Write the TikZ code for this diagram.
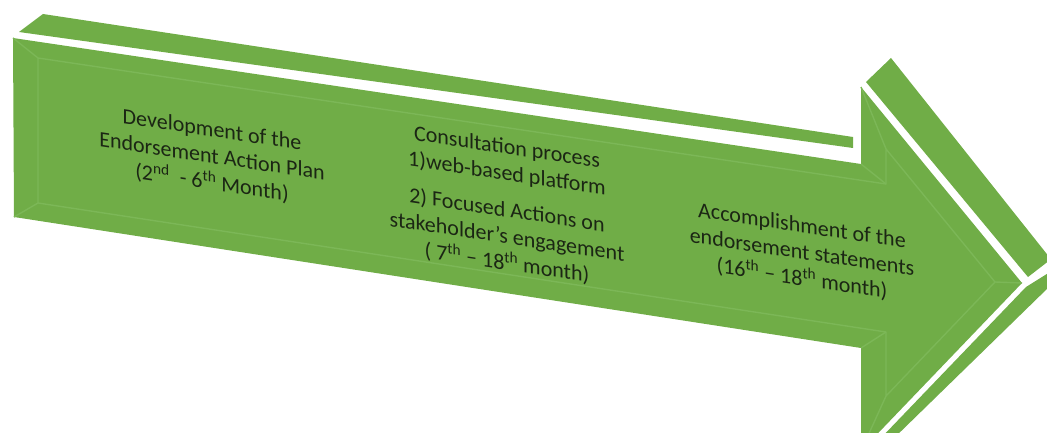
\documentclass[tikz,border=0pt]{standalone}
\usepackage{fontspec}
\setmainfont{Carlito}
\definecolor{arrowgreen}{HTML}{70AD47}
\definecolor{bevelgreen}{HTML}{7CB757}
\definecolor{labelink}{HTML}{1B2614}

\begin{document}
\begin{tikzpicture}[x=1pt,y=-1pt,
  face/.style={fill=arrowgreen},
  bevel/.style={draw=bevelgreen,line width=1.4pt,line join=round},
  stagelabel/.style={text=labelink,align=center,font=\fontsize{22}{26.5}\selectfont,yslant=-0.15,transform shape,inner sep=0pt}]
\useasboundingbox (0,0) rectangle (1047,433);
\clip (0,0) rectangle (1047,433);

\fill[face] (19,32) -- (43,14) -- (853,137) -- (853,148) -- cycle;
\fill[face] (866,82) -- (891,58) -- (1050,258) -- (1050,260) -- (1028,277) -- cycle;
\fill[face] (1026,287) -- (1050,272) -- (1050,286) -- (892,440) -- (879,440) -- cycle;
\fill[face] (13,38) -- (861,164) -- (861,87) -- (1022,283) -- (861,451) -- (861,348) -- (14,217) -- cycle;

\draw[bevel] (38,58) -- (886,184) -- (886,149) -- (995,282) -- (886,396) -- (886,332) -- (38,203) -- cycle;
\foreach \ox/\oy/\ix/\iy in {13/38/38/58, 861/164/886/184, 861/87/886/149, 1022/283/995/282, 861/451/886/396, 861/348/886/332, 14/217/38/203}
  \draw[bevel] (\ox,\oy) -- (\ix,\iy);

\node[stagelabel] (plan) at (212,157) {Development of the\\Endorsement Action Plan\\(2\textsuperscript{nd}\ \ - 6\textsuperscript{th} Month)};
\node[stagelabel] (consult) at (507,206) {Consultation process\\1)web-based platform\\[10pt]2) Focused Actions on\\stakeholder’s engagement\\( 7\textsuperscript{th} – 18\textsuperscript{th} month)};
\node[stagelabel] (accomplish) at (802,253) {Accomplishment of the\\endorsement statements\\(16\textsuperscript{th} – 18\textsuperscript{th} month)};
\end{tikzpicture}
\end{document}
